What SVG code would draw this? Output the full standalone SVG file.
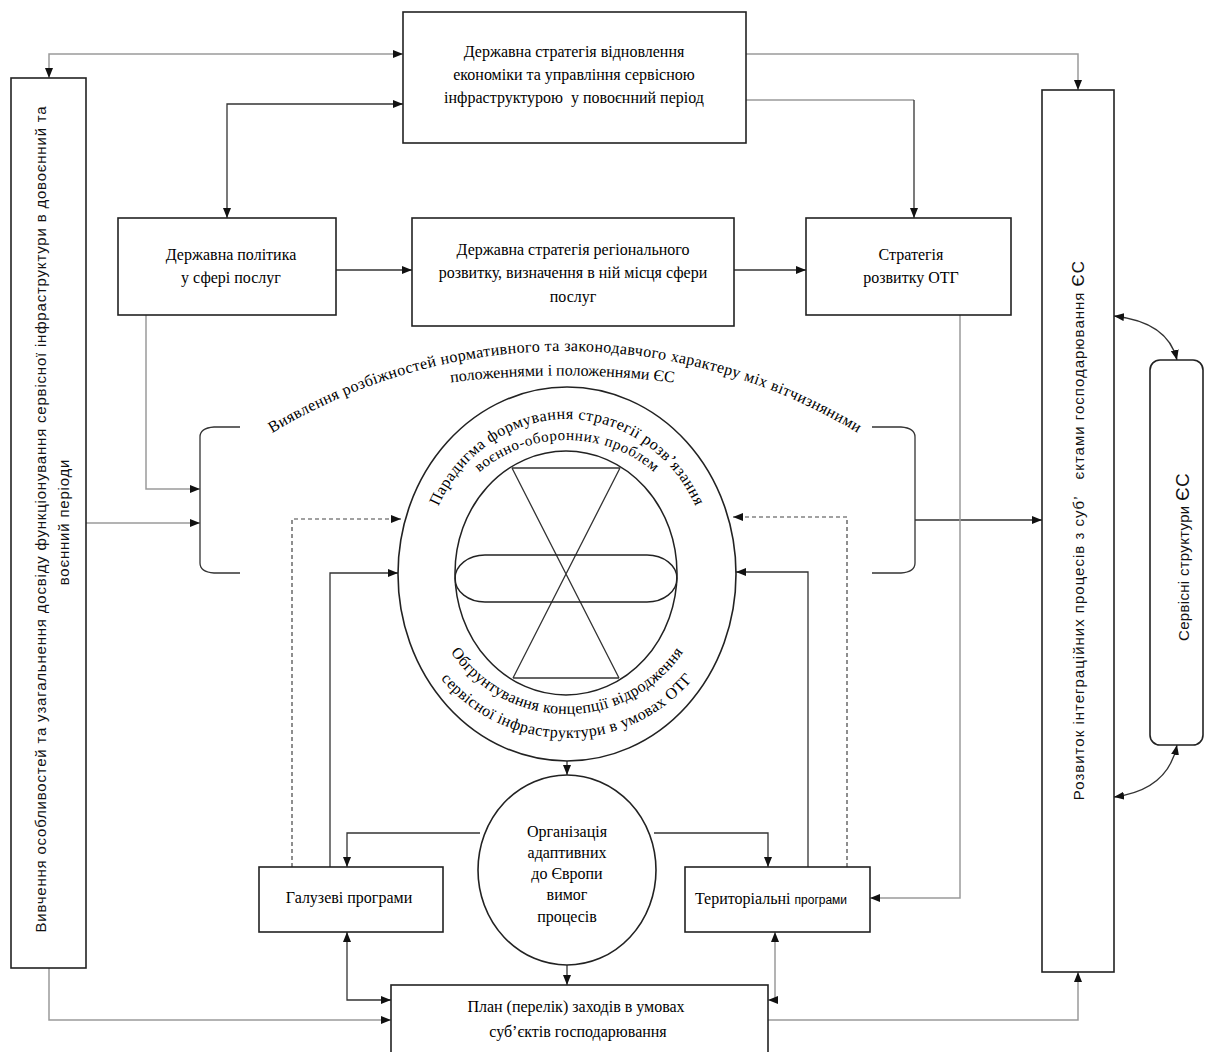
<svg xmlns="http://www.w3.org/2000/svg" width="1205" height="1052" viewBox="0 0 1205 1052">
<defs>
<marker id="ah" viewBox="0 0 10 8" refX="10" refY="4" markerWidth="10" markerHeight="8" markerUnits="userSpaceOnUse" orient="auto-start-reverse"><path d="M0,0 L10,4 L0,8 z" fill="#111"/></marker>
<path id="pViyav" d="M 2 914 A 563 563 0 0 1 1128 914"/>
<path id="pPol" d="M 420 387 Q 562 364 705 387"/>
<path id="pTop1" d="M 424 574 A 143 155 0 0 1 710 574"/>
<path id="pTop2" d="M 433 574 A 134 134 0 0 1 701 574"/>
<path id="pBot1" d="M 427 574 A 140 140 0 0 0 707 574"/>
<path id="pBot2" d="M 403 574 A 164 164 0 0 0 731 574"/>
</defs>
<style>
.box{fill:#fff;stroke:#222;stroke-width:1.6}
.t{font-family:"Liberation Serif","Times New Roman",serif;font-size:16px;fill:#000;text-anchor:middle}
.s{font-family:"Liberation Sans",Arial,sans-serif;font-size:15px;fill:#111}
.c{fill:none;stroke:#333;stroke-width:1.3}
.g{fill:none;stroke:#9a9a9a;stroke-width:1.5}
.d{fill:none;stroke:#444;stroke-width:1.2;stroke-dasharray:4 3}
.a{marker-end:url(#ah)}
.b{marker-start:url(#ah);marker-end:url(#ah)}
.arc{font-family:"Liberation Serif","Times New Roman",serif;fill:#000}
</style>

<g id="connectors">
<path class="g b" d="M 403 54 L 49 54 L 49 78"/>
<path class="c b" d="M 403 104 L 227 104 L 227 218"/>
<path class="g a" d="M 746 54 L 1078 54 L 1078 90"/>
<path class="g" d="M 746 100 L 914 100"/>
<path class="c a" d="M 914 100 L 914 218"/>
<path class="c a" d="M 336 270 L 412 270"/>
<path class="c a" d="M 734 270 L 806 270"/>
<path class="g a" d="M 146 315 L 146 489 L 200 489"/>
<path class="g a" d="M 86 523 L 200 523"/>
<path class="c a" d="M 915 520 L 1042 520"/>
<path class="g a" d="M 960 315 L 960 898 L 870 898"/>
<path class="d a" d="M 292 867 L 292 519 L 401 519"/>
<path class="c a" d="M 330 867 L 330 573 L 398 573"/>
<path class="d a" d="M 847 867 L 847 517 L 733 517"/>
<path class="c a" d="M 808 867 L 808 572 L 736 572"/>
<path class="c a" d="M 567 760 L 567 775"/>
<path class="c a" d="M 567 965 L 567 985"/>
<path class="c a" d="M 480 833 L 347 833 L 347 867"/>
<path class="c a" d="M 654 833 L 768 833 L 768 867"/>
<path class="c b" d="M 347 932 L 347 1000 L 391 1000"/>
<path class="g b" d="M 775 932 L 775 1000 L 768 1000"/>
<path class="g a" d="M 49 968 L 49 1020 L 391 1020"/>
<path class="g a" d="M 768 1020 L 1078 1020 L 1078 972"/>
<path class="c b" d="M 1114 316 Q 1168 322 1177 360"/>
<path class="c b" d="M 1114 797 Q 1168 790 1177 745"/>
</g>

<g id="top-strategy">
<rect class="box" x="403" y="12" width="343" height="131"/>
<text class="t" x="574" y="57">Державна стратегія відновлення</text>
<text class="t" x="574" y="80">економіки та управління сервісною</text>
<text class="t" x="574" y="103" xml:space="preserve">інфраструктурою  у повоєнний період</text>
</g>

<g id="left-study">
<rect class="box" x="11" y="78" width="75" height="890"/>
<text class="s" transform="translate(46,519) rotate(-90)" text-anchor="middle" letter-spacing="0.8">Вивчення особливостей та узагальнення досвіду функціонування сервісної інфраструктури в довоєнний та</text>
<text class="s" transform="translate(69,522) rotate(-90)" text-anchor="middle" letter-spacing="0.8">воєнний періоди</text>
</g>

<g id="state-policy">
<rect class="box" x="118" y="218" width="218" height="97"/>
<text class="t" x="231" y="260">Державна політика</text>
<text class="t" x="231" y="283">у сфері послуг</text>
</g>

<g id="regional-strategy">
<rect class="box" x="412" y="218" width="322" height="108"/>
<text class="t" x="573" y="255">Державна стратегія регіонального</text>
<text class="t" x="573" y="278">розвитку, визначення в ній місця сфери</text>
<text class="t" x="573" y="302">послуг</text>
</g>

<g id="otg-strategy">
<rect class="box" x="806" y="218" width="205" height="97"/>
<text class="t" x="911" y="260">Стратегія</text>
<text class="t" x="911" y="283">розвитку ОТГ</text>
</g>

<g id="integration">
<rect class="box" x="1042" y="90" width="72" height="882"/>
<text class="s" transform="translate(1084,530) rotate(-90)" text-anchor="middle" letter-spacing="1">Розвиток інтеграційних процесів з суб’<tspan dx="16">єктами господарювання </tspan><tspan font-size="17">ЄС</tspan></text>
</g>

<g id="eu-structures">
<rect class="box" x="1150" y="360" width="53" height="385" rx="10"/>
<text class="s" transform="translate(1189,557) rotate(-90)" text-anchor="middle" letter-spacing="0.3">Сервісні структури <tspan font-size="19">ЄС</tspan></text>
</g>

<g id="brackets">
<path class="c" d="M 240 427 L 214 427 Q 200 428 200 437 L 200 563 Q 200 572 214 573 L 240 573"/>
<path class="c" d="M 872 427 L 901 427 Q 915 428 915 437 L 915 563 Q 915 572 901 573 L 872 573"/>
<text class="arc" font-size="16" letter-spacing="0.4"><textPath href="#pViyav" startOffset="50%" text-anchor="middle">Виявлення розбіжностей нормативного та законодавчого характеру міх вітчизняними</textPath></text>
<text class="arc" font-size="16"><textPath href="#pPol" startOffset="50%" text-anchor="middle">положеннями і положеннями ЄС</textPath></text>
</g>

<g id="paradigm">
<ellipse cx="567" cy="574" rx="169" ry="187" fill="#fff" stroke="#222" stroke-width="1.6"/>
<ellipse cx="566" cy="573" rx="111" ry="122" fill="none" stroke="#222" stroke-width="1.5"/>
<path class="c" d="M 512 468 L 620 468 M 512 468 L 619 678 M 620 468 L 513 678 M 513 678 L 619 678"/>
<rect x="455" y="555" width="222" height="47" rx="30" ry="23.5" fill="none" stroke="#222" stroke-width="1.4"/>
<text class="arc" font-size="16" letter-spacing="0.5"><textPath href="#pTop1" startOffset="50%" text-anchor="middle">Парадигма формування стратегії розв’язання</textPath></text>
<text class="arc" font-size="15" letter-spacing="0.6"><textPath href="#pTop2" startOffset="50%" text-anchor="middle">воєнно-оборонних проблем</textPath></text>
<text class="arc" font-size="16" letter-spacing="0.3"><textPath href="#pBot1" startOffset="50%" text-anchor="middle">Обгрунтування концепції відродження</textPath></text>
<text class="arc" font-size="16" letter-spacing="0.4"><textPath href="#pBot2" startOffset="50%" text-anchor="middle">сервісної інфраструктури в умовах ОТГ</textPath></text>
</g>

<g id="organization">
<ellipse cx="567" cy="870" rx="89" ry="95" fill="#fff" stroke="#222" stroke-width="1.6"/>
<text class="t" x="567" y="837">Організація</text>
<text class="t" x="567" y="858">адаптивних</text>
<text class="t" x="567" y="879">до Європи</text>
<text class="t" x="567" y="900">вимог</text>
<text class="t" x="567" y="922">процесів</text>
</g>

<g id="branch-programs">
<rect class="box" x="259" y="867" width="184" height="65"/>
<text class="t" x="349" y="903" font-size="15">Галузеві програми</text>
</g>

<g id="territorial-programs">
<rect class="box" x="685" y="867" width="185" height="65"/>
<text class="t" x="771" y="904" font-size="15">Територіальні <tspan font-family="Liberation Sans, Arial, sans-serif" font-size="12">програми</tspan></text>
</g>

<g id="plan">
<rect class="box" x="391" y="985" width="377" height="80"/>
<text class="t" x="576" y="1012">План (перелік) заходів в умовах</text>
<text class="t" x="578" y="1037">суб’єктів господарювання</text>
</g>
</svg>
